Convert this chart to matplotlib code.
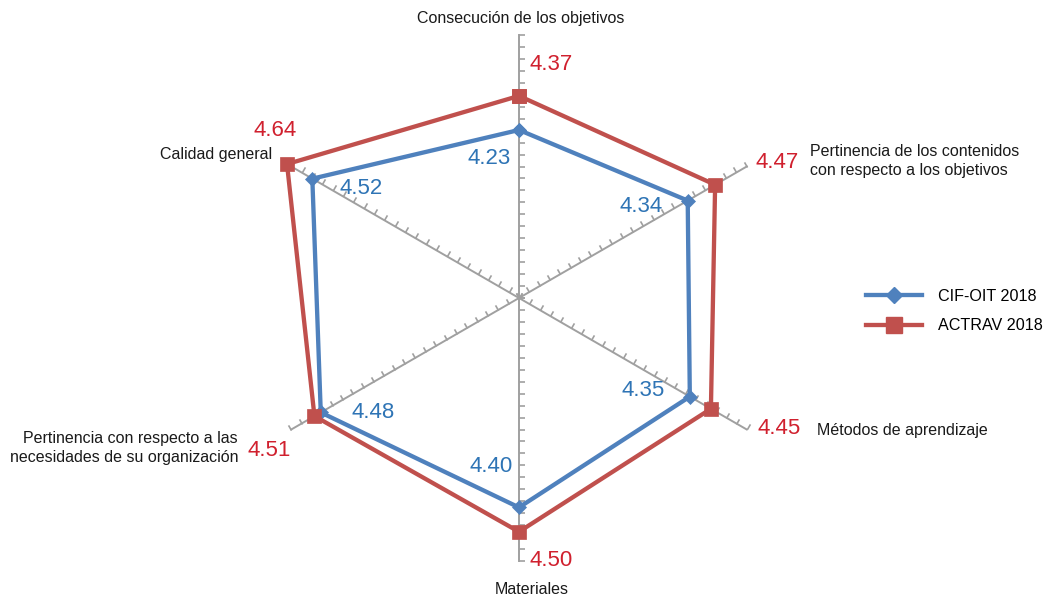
import numpy as np
import matplotlib
matplotlib.use("Agg")
import matplotlib.pyplot as plt
from matplotlib.path import Path
from matplotlib.markers import MarkerStyle
from matplotlib.transforms import Affine2D
from matplotlib.lines import Line2D

plt.rcParams['font.family'] = ['Liberation Sans', 'DejaVu Sans']

# ---------------- data ----------------
categories = [
    "Consecución de los objetivos",
    "Pertinencia de los contenidos\ncon respecto a los objetivos",
    "Métodos de aprendizaje",
    "Materiales",
    "Pertinencia con respecto a las\nnecesidades de su organización",
    "Calidad general",
]
series_names = ["CIF-OIT 2018", "ACTRAV 2018"]
cif_values = [4.23, 4.34, 4.35, 4.40, 4.48, 4.52]
actrav_values = [4.37, 4.47, 4.45, 4.50, 4.51, 4.64]

# ---------------- style ----------------
W, H = 1050, 596
blue_line, red_line = "#4F81BD", "#C0504D"
blue_txt, red_txt = "#2E74B5", "#D0202E"
axis_col = "#A0A0A0"
rmin, rmax = 3.54, 4.62
cx, cy, rad = 519, 298, 263

def fx(x): return x / W
def fy(y): return 1 - y / H

fig = plt.figure(figsize=(W / 100, H / 100), dpi=100)
ax = fig.add_axes([fx(cx - rad), fy(cy + rad), 2 * rad / W, 2 * rad / H], projection="polar")
ax.set_theta_offset(np.pi / 2)
ax.set_theta_direction(-1)
ax.set_ylim(rmin, rmax)
ax.axis("off")

n = len(categories)
theta = np.arange(n) * 2 * np.pi / n

# radial axes with one-sided tick marks
tick_r = np.linspace(rmin, rmax, 23)
tick_side = [-1, 1, 1, 1, -1, -1]
tick_path = Path([(0, 0), (1, 0)])
for i, th in enumerate(theta):
    ax.plot([th, th], [rmin, rmax], color=axis_col, lw=1.4, clip_on=False, zorder=1)
    phi = 90 - np.degrees(th)
    d = phi + 90 * tick_side[i]
    ms = MarkerStyle(tick_path, transform=Affine2D().rotate_deg(d))
    ax.plot(np.full_like(tick_r, th), tick_r, linestyle="none", marker=ms,
            markersize=8.5, markeredgewidth=1.2, markeredgecolor=axis_col,
            markerfacecolor="none", clip_on=False, zorder=1)

# series
th_c = np.append(theta, theta[0])
cif_c = np.append(cif_values, cif_values[0])
act_c = np.append(actrav_values, actrav_values[0])
ax.plot(th_c, cif_c, color=blue_line, lw=3.1, marker="D", markersize=7,
        markeredgewidth=0.5, clip_on=False, zorder=3, solid_joinstyle="miter")
ax.plot(th_c, act_c, color=red_line, lw=3.1, marker="s", markersize=10.5,
        markeredgewidth=0.5, clip_on=False, zorder=4, solid_joinstyle="miter")

# category labels
cat_pos = [
    (521, 19, "center", "center"),
    (810, 161, "left", "center"),
    (817, 430, "left", "center"),
    (532, 590, "center", "center"),
    (238, 448, "right", "center"),
    (272, 155, "right", "center"),
]
for lab, (x, y, ha, va) in zip(categories, cat_pos):
    fig.text(fx(x), fy(y), lab, ha=ha, va=va, fontsize=11.5, color="#1A1A1A",
             multialignment=ha if ha != "center" else "center", linespacing=1.33)

# value labels
cif_pos = [(467, 158), (620, 206), (622, 391), (470, 466), (351, 412), (340, 189)]
act_pos = [(530, 65), (755, 162), (758, 429), (529, 560), (247, 450), (253, 130)]
for v, (x, y) in zip(cif_values, cif_pos):
    fig.text(fx(x), fy(y), f"{v:.2f}", ha="left", va="center", fontsize=16, color=blue_txt)
for v, (x, y) in zip(actrav_values, act_pos):
    fig.text(fx(x), fy(y), f"{v:.2f}", ha="left", va="center", fontsize=16, color=red_txt)

# legend
handles = [
    Line2D([], [], color=blue_line, lw=3.1, marker="D", markersize=8.5),
    Line2D([], [], color=red_line, lw=3.1, marker="s", markersize=11),
]
fig.legend(handles, series_names, loc="center left", bbox_to_anchor=(fx(866), fy(311)),
           frameon=False, fontsize=11.6, handlelength=3.5, handletextpad=0.95,
           borderpad=0, borderaxespad=0, labelspacing=0.9)

fig.savefig("out.png", dpi=100)
